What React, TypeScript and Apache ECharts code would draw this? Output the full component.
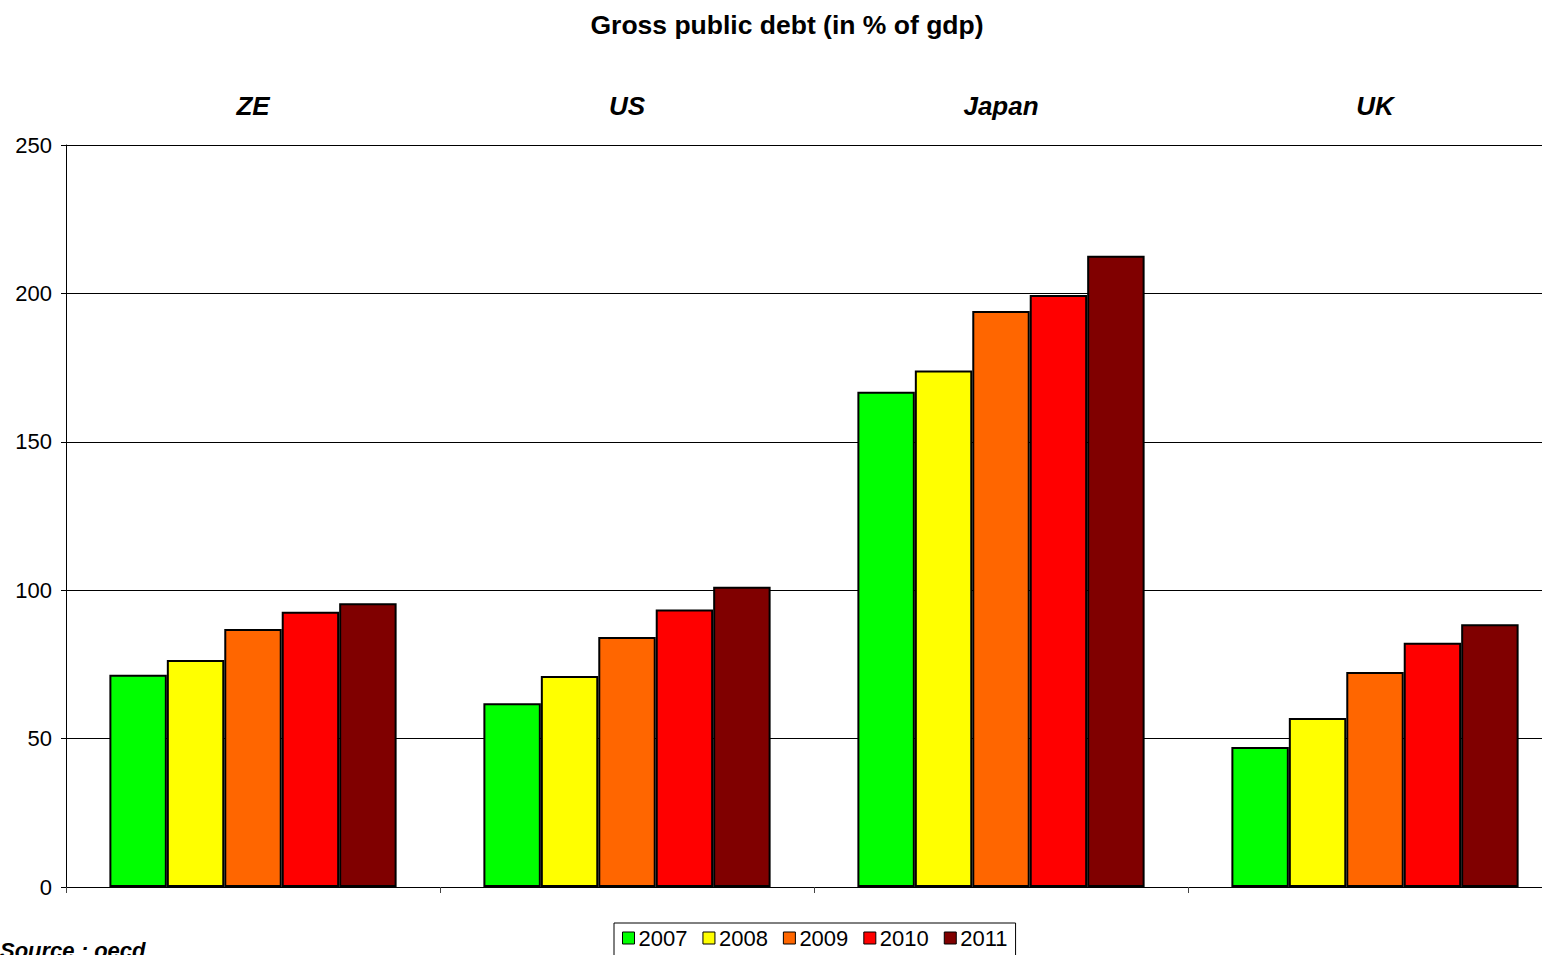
import React, { useEffect, useRef } from "react";
import * as echarts from "echarts";

const categories = ["ZE", "US", "Japan", "UK"];
const years = ["2007", "2008", "2009", "2010", "2011"];
const colors = ["#00FF00", "#FFFF00", "#FF6600", "#FF0000", "#800000"];
const values2007 = [71.5, 61.9, 166.9, 47.2];
const values2008 = [76.5, 71.1, 174.0, 56.9];
const values2009 = [86.9, 84.2, 194.1, 72.4];
const values2010 = [92.7, 93.5, 199.5, 82.3];
const values2011 = [95.6, 101.2, 212.7, 88.5];
const seriesValues = [values2007, values2008, values2009, values2010, values2011];
const titleText = "Gross public debt (in % of gdp)";
const sourceText = "Source : oecd";

const FONT = "'Liberation Sans', Arial, sans-serif";

export default function App() {
  const ref = useRef<HTMLDivElement>(null);
  useEffect(() => {
    if (!ref.current) return;
    const chart = echarts.init(ref.current, null, { renderer: "svg" });
    chart.setOption({
      animation: false,
      backgroundColor: "#ffffff",
      textStyle: { fontFamily: FONT },
      graphic: [
        {
          type: "text",
          x: 787,
          y: 25,
          style: {
            text: titleText,
            font: `bold 26.5px ${FONT}`,
            fill: "#000",
            textAlign: "center",
            textVerticalAlign: "middle",
          },
        },
        {
          type: "text",
          x: 0,
          y: 939,
          style: {
            text: sourceText,
            font: `italic bold 22px ${FONT}`,
            fill: "#000",
            textAlign: "left",
            textVerticalAlign: "top",
          },
        },
      ],
      legend: {
        data: years,
        left: 614,
        top: 923,
        orient: "horizontal",
        padding: [4, 8, 8, 8],
        borderColor: "#000",
        borderWidth: 1,
        itemWidth: 12,
        itemHeight: 12,
        itemGap: 15,
        icon: "rect",
        itemStyle: { borderColor: "#000", borderWidth: 1 },
        textStyle: { fontSize: 22, color: "#000", fontFamily: FONT, padding: [0, 0, 0, -1] },
      },
      grid: { left: 66, right: 0, top: 145, bottom: 68, containLabel: false },
      xAxis: [
        {
          type: "category",
          data: categories,
          position: "bottom",
          axisLine: { show: true, lineStyle: { color: "#000", width: 1 } },
          axisTick: { show: true, length: 6, lineStyle: { color: "#444" } },
          axisLabel: { show: false },
        },
        {
          type: "category",
          data: categories,
          position: "top",
          axisLine: { show: false },
          axisTick: { show: false },
          axisLabel: {
            show: true,
            margin: 26,
            fontSize: 26,
            fontWeight: "bold",
            fontStyle: "italic",
            color: "#000",
            fontFamily: FONT,
          },
        },
      ],
      yAxis: {
        type: "value",
        min: 0,
        max: 250,
        interval: 50,
        axisLine: { show: true, lineStyle: { color: "#000", width: 1 } },
        axisTick: { show: true, length: 5, lineStyle: { color: "#000" } },
        axisLabel: { fontSize: 22, color: "#000", margin: 14, fontFamily: FONT },
        splitLine: { show: true, lineStyle: { color: "#000", width: 1 } },
      },
      series: years.map((y, i) => ({
        name: y,
        type: "bar",
        xAxisIndex: 0,
        data: seriesValues[i],
        barGap: "0%",
        barCategoryGap: "23.2%",
        itemStyle: { color: colors[i], borderColor: "#000", borderWidth: 2 },
      })),
    });
    return () => chart.dispose();
  }, []);
  return (
    <div style={{ position: "fixed", left: 0, top: 0, width: 1542, height: 955, overflow: "hidden", background: "#fff" }}>
      <div ref={ref} style={{ width: 1562, height: 955 }} />
    </div>
  );
}
